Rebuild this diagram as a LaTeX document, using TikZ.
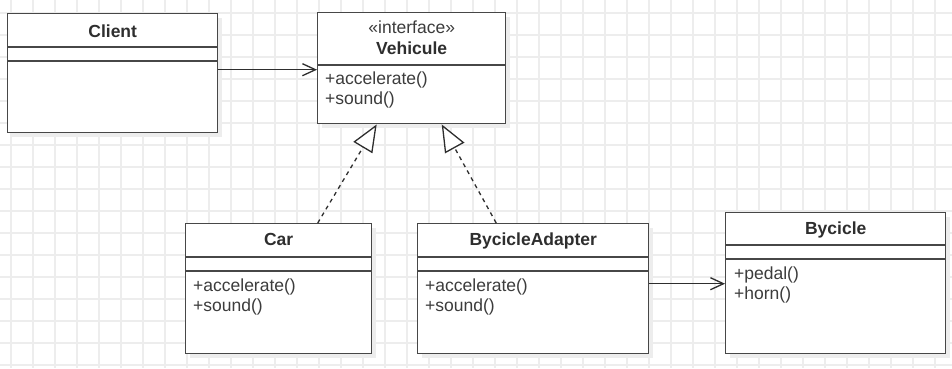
\documentclass[tikz,border=0pt]{standalone}
\usepackage{fontspec}
\setmainfont{Liberation Sans}
\usetikzlibrary{arrows.meta,calc,shadows}

\definecolor{gridline}{HTML}{EDEDED}
\definecolor{edge}{HTML}{474747}
\definecolor{ink}{HTML}{2E2E2E}
\definecolor{memberink}{HTML}{3C3C3C}

\tikzset{
  classbox/.style={draw=edge, line width=1.4pt, fill=white, anchor=north west,
    inner sep=0pt, general shadow={fill=black!7, shadow xshift=4pt, shadow yshift=-4pt}},
  divider/.style={draw=edge, line width=1.4pt},
  classname/.style={anchor=base, inner sep=0pt, text=ink, font=\bfseries},
  stereotype/.style={anchor=base, inner sep=0pt, text=memberink},
  member/.style={anchor=base west, inner sep=0pt, text=memberink},
  assoc/.style={draw=ink, line width=1.3pt, -{Straight Barb[length=13pt,width=12pt,line width=1.3pt]}},
  realize/.style={draw=ink, line width=1.3pt, dash pattern=on 4pt off 4pt,
    -{Triangle[open,length=27pt,width=22pt,fill=white,line width=1.3pt]}},
}

\begin{document}
\fontsize{17.5}{20}\selectfont
\begin{tikzpicture}[x=1pt,y=-1pt]
  \useasboundingbox (0,0) rectangle (952,368);
  \fill[white] (0,0) rectangle (952,368);

  % background grid
  \foreach \gx in {0,...,42} \draw[gridline, line width=1.3pt] (11+22*\gx,0) -- (11+22*\gx,368);
  \foreach \gy in {0,...,16} \draw[gridline, line width=1.3pt] (0,13+22*\gy) -- (952,13+22*\gy);

  % Client
  \node[classbox, minimum width=210pt, minimum height=119pt] (client) at (7,13) {};
  \draw[divider] ($(client.north west)+(0,34)$) -- ($(client.north east)+(0,34)$);
  \draw[divider] ($(client.north west)+(0,48)$) -- ($(client.north east)+(0,48)$);
  \node[classname] (clientname) at ($(client.north)+(0,24)$) {Client};

  % Vehicule interface
  \node[classbox, minimum width=188pt, minimum height=111pt] (vehicule) at (317,12) {};
  \draw[divider] ($(vehicule.north west)+(0,53)$) -- ($(vehicule.north east)+(0,53)$);
  \node[stereotype] (vehst) at ($(vehicule.north)+(0,21)$) {«interface»};
  \node[classname] (vehname) at ($(vehicule.north)+(0,42)$) {Vehicule};
  \node[member] (vehm1) at ($(vehicule.north west)+(8,72)$) {+accelerate()};
  \node[member] (vehm2) at ($(vehicule.north west)+(8,92)$) {+sound()};

  % Car
  \node[classbox, minimum width=186pt, minimum height=130pt] (car) at (185,223) {};
  \draw[divider] ($(car.north west)+(0,34)$) -- ($(car.north east)+(0,34)$);
  \draw[divider] ($(car.north west)+(0,48)$) -- ($(car.north east)+(0,48)$);
  \node[classname] (carname) at ($(car.north)+(0,22)$) {Car};
  \node[member] (carm1) at ($(car.north west)+(8,68)$) {+accelerate()};
  \node[member] (carm2) at ($(car.north west)+(8,88)$) {+sound()};

  % BycicleAdapter
  \node[classbox, minimum width=231pt, minimum height=130pt] (adapter) at (417,223) {};
  \draw[divider] ($(adapter.north west)+(0,34)$) -- ($(adapter.north east)+(0,34)$);
  \draw[divider] ($(adapter.north west)+(0,48)$) -- ($(adapter.north east)+(0,48)$);
  \node[classname] (adaptername) at ($(adapter.north)+(0,22)$) {BycicleAdapter};
  \node[member] (adapterm1) at ($(adapter.north west)+(8,68)$) {+accelerate()};
  \node[member] (adapterm2) at ($(adapter.north west)+(8,88)$) {+sound()};

  % Bycicle
  \node[classbox, minimum width=220pt, minimum height=141pt] (bycicle) at (725,212) {};
  \draw[divider] ($(bycicle.north west)+(0,33)$) -- ($(bycicle.north east)+(0,33)$);
  \draw[divider] ($(bycicle.north west)+(0,47)$) -- ($(bycicle.north east)+(0,47)$);
  \node[classname] (bycname) at ($(bycicle.north)+(0,22)$) {Bycicle};
  \node[member] (bycm1) at ($(bycicle.north west)+(9,67)$) {+pedal()};
  \node[member] (bycm2) at ($(bycicle.north west)+(9,87)$) {+horn()};

  % associations
  \draw[assoc] ([yshift=3.5pt]client.east) coordinate (clientout) -- (clientout -| vehicule.west);
  \draw[assoc] ([yshift=5pt]adapter.east) coordinate (adapterout) -- (adapterout -| bycicle.west);

  % realizations of the interface
  \draw[realize] ([xshift=39pt]car.north) -- ([xshift=-35pt]vehicule.south);
  \draw[realize] ([xshift=-37pt]adapter.north) -- ([xshift=30pt]vehicule.south);
\end{tikzpicture}
\end{document}
